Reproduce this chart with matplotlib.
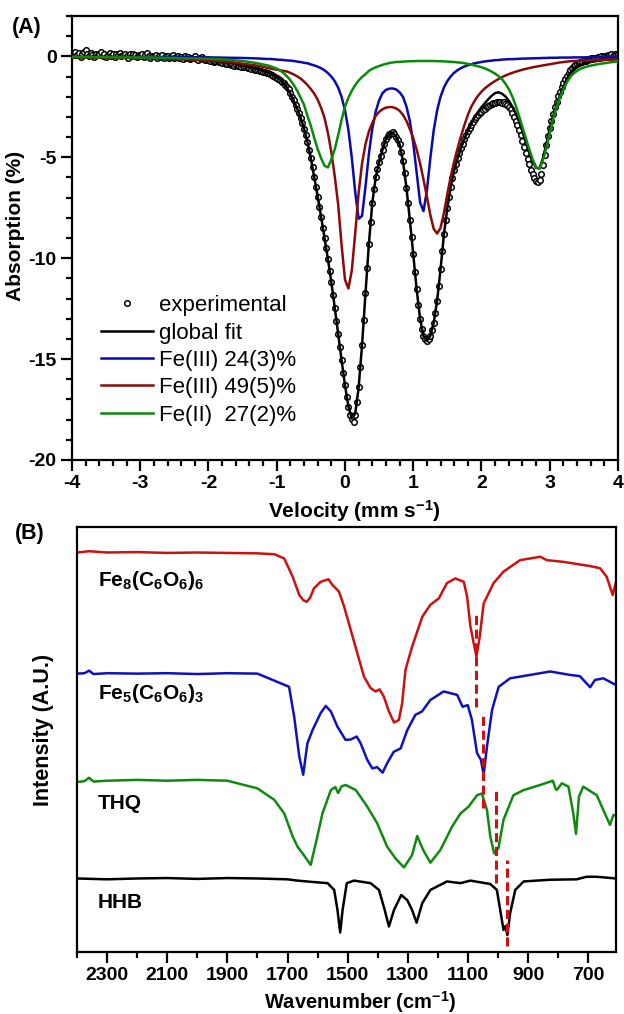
import numpy as np
import matplotlib
matplotlib.use('Agg')
import matplotlib.pyplot as plt
from matplotlib.lines import Line2D

plt.rcParams['font.family'] = ['Liberation Sans', 'DejaVu Sans']
plt.rcParams['font.weight'] = 'bold'
plt.rcParams['axes.unicode_minus'] = False
plt.rcParams['mathtext.fontset'] = 'custom'
plt.rcParams['mathtext.rm'] = 'Liberation Sans:bold'
plt.rcParams['mathtext.it'] = 'Liberation Sans:bold'
plt.rcParams['mathtext.bf'] = 'Liberation Sans:bold'

# ---------- (A) Moessbauer spectrum ----------
# experimental points, equally spaced channels from -4 to 4 mm/s (step 0.025)
exp_abs = [
    0.12, 0.05, 0.20, 0.08, 0.15, -0.02, 0.10, 0.22, 0.30, 0.12, 0.04, 0.18, 0.08, -0.04, 0.14, 0.06,
    0.10, 0.20, 0.02, 0.12, -0.05, 0.08, 0.16, 0.04, 0.10, -0.02, 0.12, 0.06, 0.18, 0.00, 0.08, 0.14,
    0.04, -0.06, 0.10, 0.02, 0.14, 0.06, -0.04, 0.08, 0.00, 0.12, -0.02, 0.05, 0.16, 0.02, -0.06, 0.04,
    0.00, 0.06, -0.08, 0.02, -0.04, 0.08, -0.10, 0.00, 0.04, -0.06, -0.02, 0.05, -0.10, -0.04, 0.02, -0.08,
    -0.04, -0.12, 0.00, -0.08, -0.02, -0.14, -0.06, -0.10, 0.02, -0.12, -0.16, -0.08, -0.04, -0.14, -0.20, -0.12,
    -0.18, -0.22, -0.16, -0.26, -0.24, -0.20, -0.30, -0.28, -0.34, -0.30, -0.36, -0.40, -0.34, -0.42, -0.40, -0.46,
    -0.44, -0.48, -0.46, -0.52, -0.50, -0.55, -0.54, -0.58, -0.60, -0.62, -0.60, -0.66, -0.68, -0.66, -0.72, -0.74,
    -0.76, -0.78, -0.82, -0.84, -0.88, -0.92, -0.96, -1.00, -1.06, -1.12, -1.18, -1.26, -1.34, -1.42, -1.52, -1.64,
    -1.82, -2.00, -2.18, -2.40, -2.62, -2.82, -3.06, -3.30, -3.60, -3.92, -4.25, -4.62, -5.05, -5.50, -5.98, -6.45,
    -6.95, -7.45, -7.95, -8.48, -9.00, -9.52, -10.05, -10.62, -11.20, -11.82, -12.45, -13.10, -13.75, -14.40, -15.05, -15.68,
    -16.30, -16.88, -17.38, -17.75, -17.98, -18.10, -17.75, -17.15, -16.40, -15.40, -14.30, -13.05, -11.75, -10.50, -9.30, -8.20,
    -7.25, -6.55, -6.00, -5.58, -5.25, -4.92, -4.62, -4.35, -4.10, -3.95, -3.85, -3.78, -3.76, -3.84, -3.98, -4.15,
    -4.35, -4.72, -5.20, -5.80, -6.50, -7.28, -8.10, -8.95, -9.80, -10.68, -11.55, -12.32, -13.00, -13.50, -13.85, -14.02,
    -14.10, -14.02, -13.85, -13.58, -13.20, -12.70, -12.10, -11.38, -10.55, -9.65, -8.80, -8.10, -7.50, -6.95, -6.45, -6.02,
    -5.65, -5.33, -5.05, -4.78, -4.55, -4.32, -4.10, -3.90, -3.72, -3.55, -3.40, -3.25, -3.12, -2.98, -2.90, -2.80,
    -2.75, -2.66, -2.60, -2.52, -2.48, -2.40, -2.38, -2.32, -2.30, -2.26, -2.28, -2.24, -2.30, -2.28, -2.36, -2.42,
    -2.50, -2.62, -2.80, -2.98, -3.18, -3.42, -3.65, -3.92, -4.18, -4.48, -4.78, -5.08, -5.35, -5.62, -5.85, -6.05,
    -6.18, -6.25, -6.15, -5.85, -5.40, -4.90, -4.40, -3.95, -3.55, -3.20, -2.85, -2.52, -2.25, -1.98, -1.75, -1.52,
    -1.32, -1.12, -0.95, -0.80, -0.68, -0.58, -0.50, -0.44, -0.38, -0.34, -0.28, -0.26, -0.20, -0.22, -0.16, -0.12,
    -0.10, -0.14, -0.06, -0.08, -0.02, -0.06, 0.02, -0.04, 0.04, 0.00, 0.06, 0.02, 0.10, 0.04, 0.12, 0.06,
    0.10,
]

# fitted curves, read on a common velocity grid
vel_left = [-4.0, -3.6, -3.2, -2.8, -2.4, -2.0, -1.7, -1.5, -1.3]
vel_right = [3.6, 3.7, 3.8, 3.9, 4.0]
line_vel = vel_left + list(np.round(np.arange(-1.2, 3.501, 0.05), 2)) + vel_right

fit_abs = [
    -0.05, -0.06, -0.07, -0.09, -0.12, -0.20, -0.32, -0.44, -0.60,
    -0.72, -0.78, -0.85, -0.93, -1.02, -1.15, -1.32, -1.55, -1.85, -2.20,
    -2.60, -3.05, -3.58, -4.25, -5.05, -6.00, -6.95, -7.95, -9.00, -10.05,
    -11.20, -12.45, -13.75, -15.05, -16.30, -17.35, -17.95, -17.70, -16.40, -14.30,
    -11.75, -9.30, -7.25, -6.00, -5.25, -4.62, -4.10, -3.85, -3.79, -3.98,
    -4.35, -5.20, -6.50, -8.10, -9.80, -11.55, -13.00, -13.85, -14.10, -13.85,
    -13.20, -12.10, -10.55, -8.80, -7.50, -6.45, -5.65, -5.05, -4.55, -4.10,
    -3.70, -3.35, -3.00, -2.75, -2.52, -2.32, -2.12, -1.95, -1.82, -1.78,
    -1.85, -1.98, -2.20, -2.48, -2.82, -3.22, -3.72, -4.25, -4.75, -5.20,
    -5.52, -5.55, -5.05, -4.35, -3.60, -2.96, -2.40, -1.92, -1.50, -1.12,
    -0.82, -0.62, -0.50, -0.42, -0.36,
    -0.28, -0.22, -0.18, -0.15, -0.12,
]
blue_abs = [
    -0.02, -0.02, -0.03, -0.03, -0.04, -0.05, -0.07, -0.08, -0.10,
    -0.12, -0.13, -0.13, -0.14, -0.16, -0.17, -0.18, -0.20, -0.21, -0.23,
    -0.26, -0.28, -0.32, -0.34, -0.40, -0.45, -0.51, -0.59, -0.69, -0.83,
    -1.00, -1.23, -1.55, -2.01, -2.67, -3.64, -5.03, -6.74, -8.05, -7.90,
    -6.46, -4.83, -3.58, -2.73, -2.18, -1.82, -1.66, -1.60, -1.59, -1.64,
    -1.78, -2.01, -2.48, -3.20, -4.30, -5.76, -7.23, -7.67, -6.65, -5.05,
    -3.66, -2.67, -2.00, -1.54, -1.22, -0.99, -0.81, -0.68, -0.58, -0.50,
    -0.44, -0.39, -0.34, -0.31, -0.28, -0.25, -0.23, -0.21, -0.19, -0.18,
    -0.16, -0.15, -0.14, -0.14, -0.13, -0.12, -0.11, -0.11, -0.10, -0.10,
    -0.09, -0.09, -0.08, -0.08, -0.07, -0.07, -0.07, -0.06, -0.06, -0.06,
    -0.06, -0.05, -0.05, -0.05, -0.05,
    -0.04, -0.04, -0.04, -0.03, -0.03,
]
red_abs = [
    -0.04, -0.06, -0.08, -0.10, -0.14, -0.20, -0.28, -0.36, -0.45,
    -0.52, -0.56, -0.60, -0.63, -0.66, -0.69, -0.72, -0.75, -0.82, -0.90,
    -0.99, -1.10, -1.25, -1.42, -1.62, -1.85, -2.15, -2.55, -3.05, -3.80,
    -4.75, -5.95, -7.35, -9.35, -11.07, -11.50, -10.60, -8.75, -6.75, -5.30,
    -4.35, -3.72, -3.30, -2.95, -2.75, -2.62, -2.54, -2.51, -2.52, -2.58,
    -2.70, -2.90, -3.20, -3.60, -4.05, -4.62, -5.30, -6.10, -6.95, -7.85,
    -8.55, -8.78, -8.50, -7.75, -6.80, -5.95, -5.20, -4.55, -3.95, -3.40,
    -2.90, -2.50, -2.20, -1.95, -1.75, -1.58, -1.45, -1.33, -1.22, -1.12,
    -1.03, -0.95, -0.88, -0.82, -0.76, -0.71, -0.66, -0.62, -0.58, -0.54,
    -0.51, -0.48, -0.45, -0.42, -0.39, -0.36, -0.33, -0.30, -0.28, -0.26,
    -0.24, -0.23, -0.22, -0.21, -0.20,
    -0.19, -0.18, -0.17, -0.16, -0.15,
]
green_abs = [
    -0.03, -0.04, -0.05, -0.06, -0.09, -0.12, -0.17, -0.23, -0.33,
    -0.40, -0.44, -0.48, -0.54, -0.61, -0.70, -0.83, -0.99, -1.18, -1.42,
    -1.70, -2.05, -2.40, -2.95, -3.45, -4.05, -4.60, -5.05, -5.42, -5.50,
    -5.10, -4.60, -3.90, -3.15, -2.50, -2.05, -1.70, -1.42, -1.20, -1.02,
    -0.88, -0.72, -0.62, -0.54, -0.48, -0.42, -0.37, -0.33, -0.30, -0.28,
    -0.27, -0.26, -0.25, -0.24, -0.24, -0.23, -0.23, -0.23, -0.23, -0.23,
    -0.23, -0.24, -0.24, -0.25, -0.26, -0.27, -0.28, -0.30, -0.31, -0.34,
    -0.37, -0.41, -0.45, -0.49, -0.54, -0.60, -0.67, -0.76, -0.86, -0.98,
    -1.13, -1.35, -1.62, -1.98, -2.42, -2.95, -3.50, -4.05, -4.60, -5.10,
    -5.50, -5.58, -5.15, -4.55, -3.80, -3.10, -2.50, -2.02, -1.64, -1.30,
    -1.02, -0.85, -0.72, -0.62, -0.55,
    -0.46, -0.39, -0.34, -0.29, -0.25,
]

legend_labels = ['experimental', 'global fit', 'Fe(III) 24(3)%', 'Fe(III) 49(5)%', 'Fe(II)  27(2)%']

# ---------- (B) IR spectra ----------
red_wn = [2400, 2360, 2300, 2200, 2100, 2000, 1900, 1800, 1744, 1711, 1683, 1661, 1648,
          1636, 1624, 1612, 1590, 1564, 1551, 1529, 1512, 1490, 1468, 1446, 1424, 1407,
          1394, 1380, 1363, 1346, 1330, 1319, 1308, 1286, 1252, 1225, 1197, 1170, 1142,
          1114, 1103, 1092, 1081, 1072, 1061, 1048, 1015, 982, 927, 860, 838, 783, 694,
          661, 639, 619, 608]
red_int = [94.0, 94.3, 94.0, 94.1, 93.9, 94.0, 93.9, 93.8, 93.6, 92.6, 88.3, 84.0, 82.8,
           82.4, 83.5, 85.6, 87.1, 87.7, 86.4, 84.8, 81.3, 75.8, 70.3, 64.8, 62.1, 61.3,
           61.8, 60.1, 56.6, 54.0, 54.6, 58.5, 66.4, 71.8, 78.9, 81.7, 83.2, 86.8, 87.9,
           87.1, 83.6, 76.6, 72.6, 69.5, 74.2, 82.0, 86.8, 89.5, 92.2, 93.0, 92.2, 91.8, 90.8,
           90.3, 88.3, 84.0, 87.1]

blue_wn = [2400, 2375, 2360, 2345, 2300, 2200, 2100, 2000, 1900, 1800, 1722, 1695, 1678,
           1661, 1648, 1634, 1617, 1590, 1573, 1556, 1534, 1507, 1490, 1470, 1457, 1435,
           1418, 1402, 1384, 1369, 1347, 1324, 1302, 1275, 1253, 1225, 1181, 1136, 1118,
           1101, 1087, 1070, 1057, 1048, 1037, 1020, 998, 960, 893, 827, 761, 728, 694,
           678, 650, 608]
blue_int = [65.5, 65.6, 66.2, 65.4, 65.6, 65.5, 65.6, 65.4, 65.6, 65.5, 63.2, 62.4, 55.4,
            46.0, 41.7, 49.1, 52.2, 56.2, 57.9, 56.6, 53.0, 49.9, 50.0, 50.7, 49.1, 45.2,
            43.2, 43.5, 42.2, 44.4, 47.1, 47.9, 52.2, 55.8, 56.6, 59.3, 61.3, 60.5, 57.7,
            58.1, 54.6, 46.8, 45.2, 41.7, 48.3, 57.0, 62.4, 64.4, 65.2, 66.0, 65.2, 64.9, 62.3,
            64.0, 64.4, 62.8]

green_wn = [2400, 2375, 2360, 2345, 2300, 2200, 2100, 2000, 1900, 1800, 1744, 1711, 1683,
            1667, 1650, 1623, 1606, 1584, 1556, 1541, 1532, 1520, 1507, 1473, 1435, 1402,
            1369, 1341, 1313, 1286, 1269, 1249, 1225, 1192, 1153, 1125, 1098, 1070, 1054,
            1037, 1026, 1013, 999, 982, 949, 915, 860, 818, 810, 805, 788, 766, 750, 741,
            731, 717, 672, 645, 628, 617, 608]
green_int = [40.0, 40.2, 41.0, 40.1, 40.3, 40.5, 40.3, 40.5, 40.3, 38.5, 35.8, 32.6, 27.2,
             24.8, 23.2, 20.5, 25.6, 32.6, 38.1, 38.8, 37.4, 39.0, 39.3, 38.1, 34.2, 30.3,
             24.8, 22.0, 19.9, 22.8, 27.3, 24.0, 21.0, 24.0, 29.5, 32.6, 34.2, 36.9, 37.3,
             33.4, 27.2, 23.2, 24.4, 31.1, 36.9, 38.1, 39.3, 40.3, 38.6, 38.1, 39.7, 38.9,
             32.6, 27.8, 36.6, 38.9, 36.9, 32.6, 29.9, 32.2, 32.2]

black_wn = [2400, 2300, 2200, 2100, 2000, 1900, 1800, 1700, 1667, 1620, 1567, 1545, 1534,
            1525, 1517, 1503, 1479, 1424, 1396, 1377, 1363, 1346, 1322, 1302, 1286, 1271,
            1252, 1225, 1170, 1125, 1092, 1026, 1004, 993, 982, 976, 969, 960, 943, 915,
            827, 739, 706, 672, 608]
black_int = [17.3, 17.1, 17.3, 17.4, 17.2, 17.4, 17.3, 17.1, 16.8, 16.5, 16.2, 14.6, 9.9,
             4.6, 9.9, 16.2, 16.8, 16.2, 14.6, 9.9, 6.0, 9.9, 13.4, 12.2, 9.9, 6.9,
             11.5, 14.6, 16.6, 16.2, 16.8, 16.0, 14.6, 9.9, 5.2, 6.1, 4.0, 9.1, 14.6, 16.6,
             17.0, 17.1, 17.7, 17.7, 17.3]

dash_wn = [1073, 1051, 1008, 971]
dash_top = [80.1, 56.2, 38.5, 21.7]
dash_bottom = [57.7, 33.8, 16.2, 1.3]

ir_names = [r'Fe$_{8}$(C$_{6}$O$_{6}$)$_{6}$', r'Fe$_{5}$(C$_{6}$O$_{6}$)$_{3}$', 'THQ', 'HHB']
ir_name_y = [87.5, 60.9, 35.0, 11.6]

BLUE_A, RED_A, GREEN_A = '#0a0aaa', '#8b0a0a', '#0a8a0a'


def style_ticks(ax, size, pad):
    ax.tick_params(which='major', direction='out', length=8, width=1.6,
                   labelsize=size, pad=pad)
    ax.tick_params(which='minor', direction='out', length=4.5, width=1.6)
    for s in ax.spines.values():
        s.set_linewidth(1.6)


fig = plt.figure(figsize=(6.24, 10.14), dpi=100)

# panel A
axa = fig.add_axes([72 / 624, 1 - 460 / 1014, 546 / 624, 444 / 1014])
vel = np.linspace(-4, 4, len(exp_abs))
axa.plot(vel, exp_abs, 'o', ms=4.0, mfc='white', mec='black', mew=1.1, zorder=2)
axa.plot(line_vel, fit_abs, color='black', lw=1.8, zorder=3)
axa.plot(line_vel, blue_abs, color=BLUE_A, lw=1.8, zorder=4)
axa.plot(line_vel, red_abs, color=RED_A, lw=1.8, zorder=4)
axa.plot(line_vel, green_abs, color=GREEN_A, lw=1.8, zorder=4)
axa.set_xlim(-4, 4)
axa.set_ylim(-20, 2)
axa.set_xticks(range(-4, 5))
axa.set_xticks(np.arange(-4, 4.01, 0.2), minor=True)
axa.set_yticks([0, -5, -10, -15, -20])
axa.set_yticks(range(-20, 3), minor=True)
style_ticks(axa, 14, 3)

handles = [
    Line2D([], [], ls='none', marker='o', ms=4, mfc='white', mec='black', mew=1.1),
    Line2D([], [], color='black', lw=1.8),
    Line2D([], [], color=BLUE_A, lw=1.8),
    Line2D([], [], color=RED_A, lw=1.8),
    Line2D([], [], color=GREEN_A, lw=1.8),
]
axa.legend(handles, legend_labels, loc='upper left', bbox_to_anchor=(0.053, 0.371),
           frameon=False, borderpad=0, borderaxespad=0, handlelength=2.35,
           handletextpad=0.27, labelspacing=0.285,
           prop={'weight': 'normal', 'size': 16})

# panel B
axb = fig.add_axes([77 / 624, 1 - 952 / 1014, 539 / 624, 425 / 1014])
axb.plot(red_wn, red_int, color='#cc1111', lw=1.8)
axb.plot(blue_wn, blue_int, color='#1111bb', lw=1.8)
axb.plot(green_wn, green_int, color='#118811', lw=1.8)
axb.plot(black_wn, black_int, color='black', lw=1.8)
axb.vlines(dash_wn, dash_bottom, dash_top, colors='#cc1111', lw=2.2,
           linestyles=(0, (3, 1.5)))
for name, yy in zip(ir_names, ir_name_y):
    axb.text(2330, yy, name, fontsize=15, fontweight='bold', va='center', ha='left')
axb.set_xlim(2400, 608)
axb.set_ylim(0, 100)
axb.set_xticks(range(2300, 600, -200))
axb.set_xticks(range(2400, 700, -200), minor=True)
axb.set_yticks([])
style_ticks(axb, 14, 3)

fig.text(12 / 624, 1 - 27 / 1014, '(A)', fontsize=15.5, fontweight='bold', va='center')
fig.text(15 / 624, 1 - 533 / 1014, '(B)', fontsize=15.5, fontweight='bold', va='center')
fig.text(16 / 624, 1 - 226 / 1014, 'Absorption (%)', fontsize=15, fontweight='bold',
         rotation=90, ha='center', va='center')
fig.text(354 / 624, 1 - 511 / 1014, r'Velocity (mm s$^{-1}$)', fontsize=15,
         fontweight='bold', ha='center', va='center')
fig.text(44 / 624, 1 - 730 / 1014, 'Intensity (A.U.)', fontsize=15.5, fontweight='bold',
         rotation=90, ha='center', va='center')
fig.text(360 / 624, 1 - 1002 / 1014, r'Wavenumber (cm$^{-1}$)', fontsize=14.5,
         fontweight='bold', ha='center', va='center')

fig.savefig('out.png', dpi=100)
